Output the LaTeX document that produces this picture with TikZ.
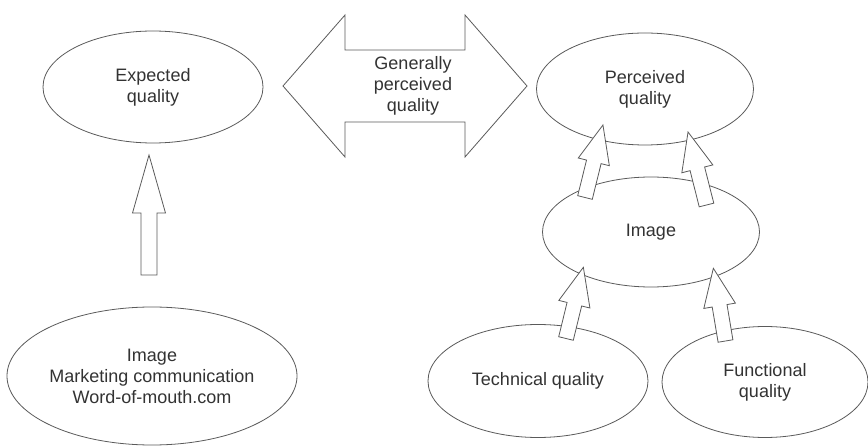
\documentclass[tikz,border=0pt]{standalone}
\usepackage{fontspec}
\setmainfont{Liberation Sans}
\usetikzlibrary{shapes.geometric}
\definecolor{linec}{HTML}{5A5A5A}
\definecolor{textc}{HTML}{333333}
\tikzset{
  oval/.style={ellipse, draw=linec, line width=0.8pt, fill=white, inner sep=0pt,
    align=center, text=textc, font=\fontsize{18}{21}\selectfont},
  blockarrow/.style={draw=linec, line width=0.8pt, fill=white, line join=miter},
  lbl/.style={align=center, text=textc, font=\fontsize{18}{21}\selectfont}
}
% #1 base coordinate name, #2 page angle, #3 length, #4 shaft half width,
% #5 head half width, #6 head length
\newcommand{\blockarr}[6]{%
  \begin{scope}[shift={(#1)},rotate=#2]
    \draw[blockarrow] (0,-#4) -- ({#3-#6},-#4) -- ({#3-#6},-#5) -- (#3,0)
      -- ({#3-#6},#5) -- ({#3-#6},#4) -- (0,#4) -- cycle;
  \end{scope}}
\begin{document}
\begin{tikzpicture}[x=1pt,y=-1pt]
\useasboundingbox (0,0) rectangle (868,446);
% ellipses
\node[oval, minimum width=220pt, minimum height=112pt] (exp) at (153,87) {Expected\\quality};
\node[oval, minimum width=274pt, minimum height=138pt] (src) at (152,376) {Image\\Marketing communication\\Word-of-mouth.com};
\node[oval, minimum width=217pt, minimum height=112pt] (perc) at (645,89) {Perceived\\quality};
\node[oval, minimum width=217pt, minimum height=110pt] (img) at (651,232) {Image};
\node[oval, minimum width=220pt, minimum height=113pt] (tech) at (538,381) {Technical quality};
\node[oval, minimum width=206pt, minimum height=111pt] (func) at (765,382) {Functional\\quality};
% double arrow
\draw[blockarrow] (283,86) -- (345,15) -- (345,50) -- (465,50) -- (465,15) -- (527,86)
  -- (465,157) -- (465,122) -- (345,122) -- (345,157) -- cycle;
\node[lbl] (gen) at (413,86) {Generally\\perceived\\quality};
% block arrows
\coordinate (a1) at (149,275);
\coordinate (a2) at (585,197.5);
\coordinate (a3) at (706.5,205);
\coordinate (a4) at (566,338.5);
\coordinate (a5) at (725.5,341);
\blockarr{a1}{90}{120}{8}{16.5}{58}
\blockarr{a2}{76.1}{74.7}{7.5}{16}{38}
\blockarr{a3}{104.2}{75.3}{7.5}{16}{38}
\blockarr{a4}{76.3}{73.3}{7.5}{16}{38}
\blockarr{a5}{99.5}{73.7}{7.5}{16}{38}
\end{tikzpicture}
\end{document}
